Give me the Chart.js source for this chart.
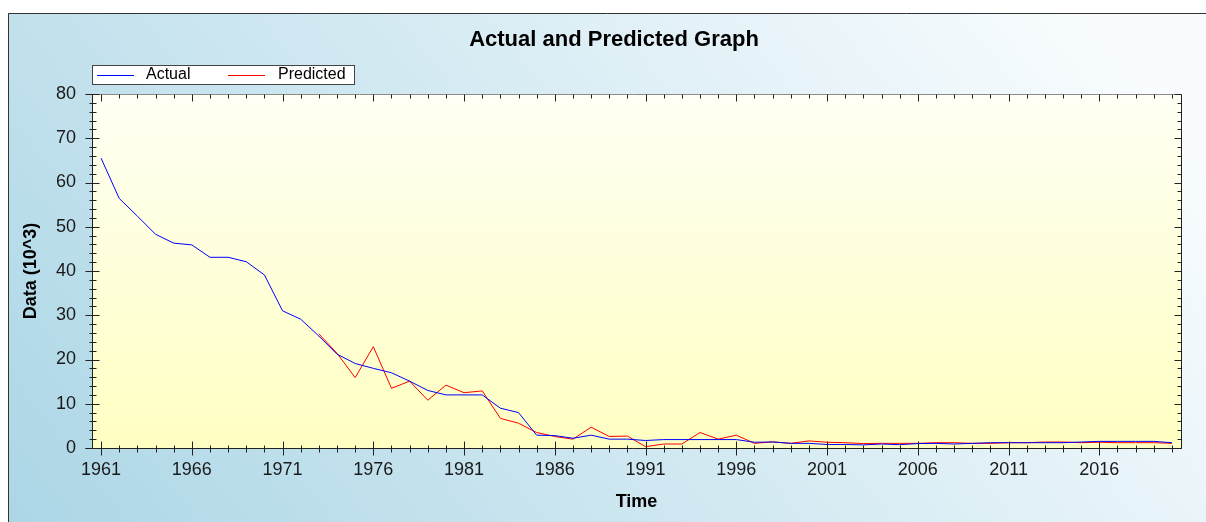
<!DOCTYPE html>
<html>
<head>
<meta charset="utf-8">
<script src="https://cdn.jsdelivr.net/npm/chart.js@4"></script>
<style>
  html, body { margin: 0; padding: 0; background: #fff; }
  canvas { display: block; }
</style>
</head>
<body>
<canvas id="chart" width="1206" height="522"></canvas>
<script>
const years = [1961, 1962, 1963, 1964, 1965, 1966, 1967, 1968, 1969, 1970,
    1971, 1972, 1973, 1974, 1975, 1976, 1977, 1978, 1979, 1980,
    1981, 1982, 1983, 1984, 1985, 1986, 1987, 1988, 1989, 1990,
    1991, 1992, 1993, 1994, 1995, 1996, 1997, 1998, 1999, 2000,
    2001, 2002, 2003, 2004, 2005, 2006, 2007, 2008, 2009, 2010,
    2011, 2012, 2013, 2014, 2015, 2016, 2017, 2018, 2019, 2020];

const actual = [65.5, 56.4, 52.4, 48.3, 46.3, 45.9, 43.1, 43.1, 42.1, 39.1,
    31.0, 29.1, 25.3, 21.2, 19.1, 18.0, 17.0, 15.1, 13.0, 12.0,
    12.0, 12.0, 9.0, 8.0, 2.9, 2.8, 2.2, 2.9, 2.0, 2.0,
    1.7, 1.9, 1.9, 1.9, 1.9, 1.9, 1.3, 1.35, 1.05, 1.05,
    0.8, 0.8, 0.7, 0.9, 0.75, 1.0, 1.05, 0.9, 1.05, 1.2,
    1.2, 1.2, 1.2, 1.2, 1.35, 1.5, 1.5, 1.5, 1.5, 1.2];

// predicted series starts in 1973
const predicted = [null, null, null, null, null, null, null, null, null, null,
    null, null, 25.8, 21.4, 15.9, 22.9, 13.5, 15.1, 10.8, 14.2,
    12.5, 12.9, 6.7, 5.6, 3.5, 2.6, 2.0, 4.7, 2.6, 2.7,
    0.3, 0.9, 0.9, 3.5, 2.0, 2.9, 1.05, 1.4, 1.05, 1.6,
    1.3, 1.2, 1.0, 1.05, 1.05, 1.05, 1.2, 1.2, 1.05, 1.05,
    1.2, 1.2, 1.35, 1.35, 1.2, 1.3, 1.2, 1.2, 1.2, 1.05];

const xTickLabels = [1961, 1966, 1971, 1976, 1981, 1986, 1991, 1996, 2001, 2006, 2011, 2016];
const yTickLabels = [0, 10, 20, 30, 40, 50, 60, 70, 80];

const FONT = "'Liberation Sans', Arial, sans-serif";

const framePlugin = {
    id: "frame",
    beforeDraw(chart) {
        const { ctx, chartArea: ca, width, height } = chart;
        ctx.save();
        ctx.fillStyle = "#fff";
        ctx.fillRect(0, 0, width, height);
        // outer panel
        const g = ctx.createLinearGradient(8, height, width * 0.75, -200);
        g.addColorStop(0, "#acd6e6");
        g.addColorStop(0.55, "#d6ebf3");
        g.addColorStop(1, "#f8fcfe");
        ctx.fillStyle = g;
        ctx.fillRect(8, 13, width - 8, height - 13);
        ctx.strokeStyle = "#333";
        ctx.lineWidth = 1;
        ctx.beginPath();
        ctx.moveTo(8.5, height);
        ctx.lineTo(8.5, 13.5);
        ctx.lineTo(width, 13.5);
        ctx.stroke();
        // plot area
        const pg = ctx.createLinearGradient(0, ca.top, 0, ca.bottom);
        pg.addColorStop(0, "#fffff4");
        pg.addColorStop(1, "#ffffc2");
        ctx.fillStyle = pg;
        ctx.fillRect(ca.left, ca.top, ca.right - ca.left, ca.bottom - ca.top);
        ctx.restore();
    },
    afterDraw(chart) {
        const { ctx, chartArea: ca, scales } = chart;
        const L = Math.round(ca.left) + 0.5, R = Math.round(ca.right) + 0.5;
        const T = Math.round(ca.top) + 0.5, B = Math.round(ca.bottom) + 0.5;
        ctx.save();
        ctx.lineWidth = 1;
        // axis lines
        ctx.strokeStyle = "#8c8c8c";
        ctx.beginPath(); ctx.moveTo(L - 7, T); ctx.lineTo(R, T); ctx.stroke();
        ctx.strokeStyle = "#222";
        ctx.beginPath();
        ctx.moveTo(L - 7, B); ctx.lineTo(R, B);
        ctx.moveTo(L, T); ctx.lineTo(L, B);
        ctx.moveTo(R, T); ctx.lineTo(R, B);
        ctx.stroke();
        // y ticks
        ctx.beginPath();
        for (let v = 0; v <= 80; v += 2) {
            const py = Math.round(scales.y.getPixelForValue(v)) + 0.5;
            const major = yTickLabels.includes(v);
            if (major) {
                ctx.moveTo(L - 7, py); ctx.lineTo(L + 7, py);
                ctx.moveTo(R - 7, py); ctx.lineTo(R, py);
            } else {
                ctx.moveTo(L - 3, py); ctx.lineTo(L + 4, py);
                ctx.moveTo(R - 4, py); ctx.lineTo(R, py);
            }
        }
        // x ticks
        years.forEach(yr => {
            const px = Math.round(scales.x.getPixelForValue(yr)) + 0.5;
            if (xTickLabels.includes(yr)) {
                ctx.moveTo(px, B - 7); ctx.lineTo(px, B + 7);
                ctx.moveTo(px, T); ctx.lineTo(px, T + 7);
            } else {
                ctx.moveTo(px, B - 3); ctx.lineTo(px, B + 4);
                ctx.moveTo(px, T); ctx.lineTo(px, T + 4);
            }
        });
        ctx.stroke();

        // title
        ctx.fillStyle = "#000";
        ctx.font = "bold 22px " + FONT;
        ctx.textAlign = "center";
        ctx.textBaseline = "middle";
        ctx.fillText("Actual and Predicted Graph", 614, 40);

        // legend box
        ctx.fillStyle = "#fff";
        ctx.fillRect(92.5, 65.5, 262, 19);
        ctx.strokeStyle = "#444";
        ctx.strokeRect(92.5, 65.5, 262, 19);
        ctx.font = "16px " + FONT;
        ctx.textAlign = "left";
        const items = [
            { ds: chart.data.datasets[0], x0: 97, x1: 134, tx: 146 },
            { ds: chart.data.datasets[1], x0: 228, x1: 265, tx: 278 }
        ];
        items.forEach(it => {
            ctx.strokeStyle = it.ds.borderColor;
            ctx.beginPath(); ctx.moveTo(it.x0, 75.5); ctx.lineTo(it.x1, 75.5); ctx.stroke();
            ctx.fillStyle = "#000";
            ctx.fillText(it.ds.label, it.tx, 75);
        });
        ctx.restore();
    }
};

new Chart(document.getElementById("chart"), {
    type: "line",
    data: {
        datasets: [
            {
                label: "Actual",
                data: years.map((yr, i) => ({ x: yr, y: actual[i] })),
                borderColor: "#0000ff",
                borderWidth: 1,
                pointRadius: 0,
                tension: 0
            },
            {
                label: "Predicted",
                data: years.map((yr, i) => ({ x: yr, y: predicted[i] })),
                borderColor: "#ff0000",
                borderWidth: 1,
                pointRadius: 0,
                tension: 0
            }
        ]
    },
    options: {
        responsive: false,
        devicePixelRatio: 1,
        animation: false,
        layout: { padding: { top: 94, right: 25, left: 0, bottom: 0 } },
        plugins: { legend: { display: false }, title: { display: false }, tooltip: { enabled: false } },
        scales: {
            x: {
                type: "linear",
                min: 1960.5,
                max: 2020.5,
                afterBuildTicks: s => { s.ticks = xTickLabels.map(v => ({ value: v })); },
                afterFit: s => { s.height = 74; },
                grid: { display: false, drawTicks: false },
                border: { display: false },
                ticks: {
                    autoSkip: false,
                    maxRotation: 0,
                    padding: 11,
                    color: "#1a1a1a",
                    font: { family: FONT, size: 18 },
                    callback: v => String(v)
                },
                title: {
                    display: true,
                    text: "Time",
                    color: "#000",
                    font: { family: FONT, size: 18, weight: "bold" },
                    padding: { top: 0, bottom: 9 }
                }
            },
            y: {
                min: 0,
                max: 80,
                afterBuildTicks: s => { s.ticks = yTickLabels.map(v => ({ value: v })); },
                afterFit: s => { s.width = 92; },
                grid: { display: false, drawTicks: false },
                border: { display: false },
                ticks: {
                    padding: 16,
                    color: "#1a1a1a",
                    font: { family: FONT, size: 18 }
                },
                title: {
                    display: true,
                    text: "Data (10^3)",
                    color: "#000",
                    font: { family: FONT, size: 18, weight: "bold" },
                    padding: { top: 20, bottom: 0 }
                }
            }
        }
    },
    plugins: [framePlugin]
});
</script>
</body>
</html>
